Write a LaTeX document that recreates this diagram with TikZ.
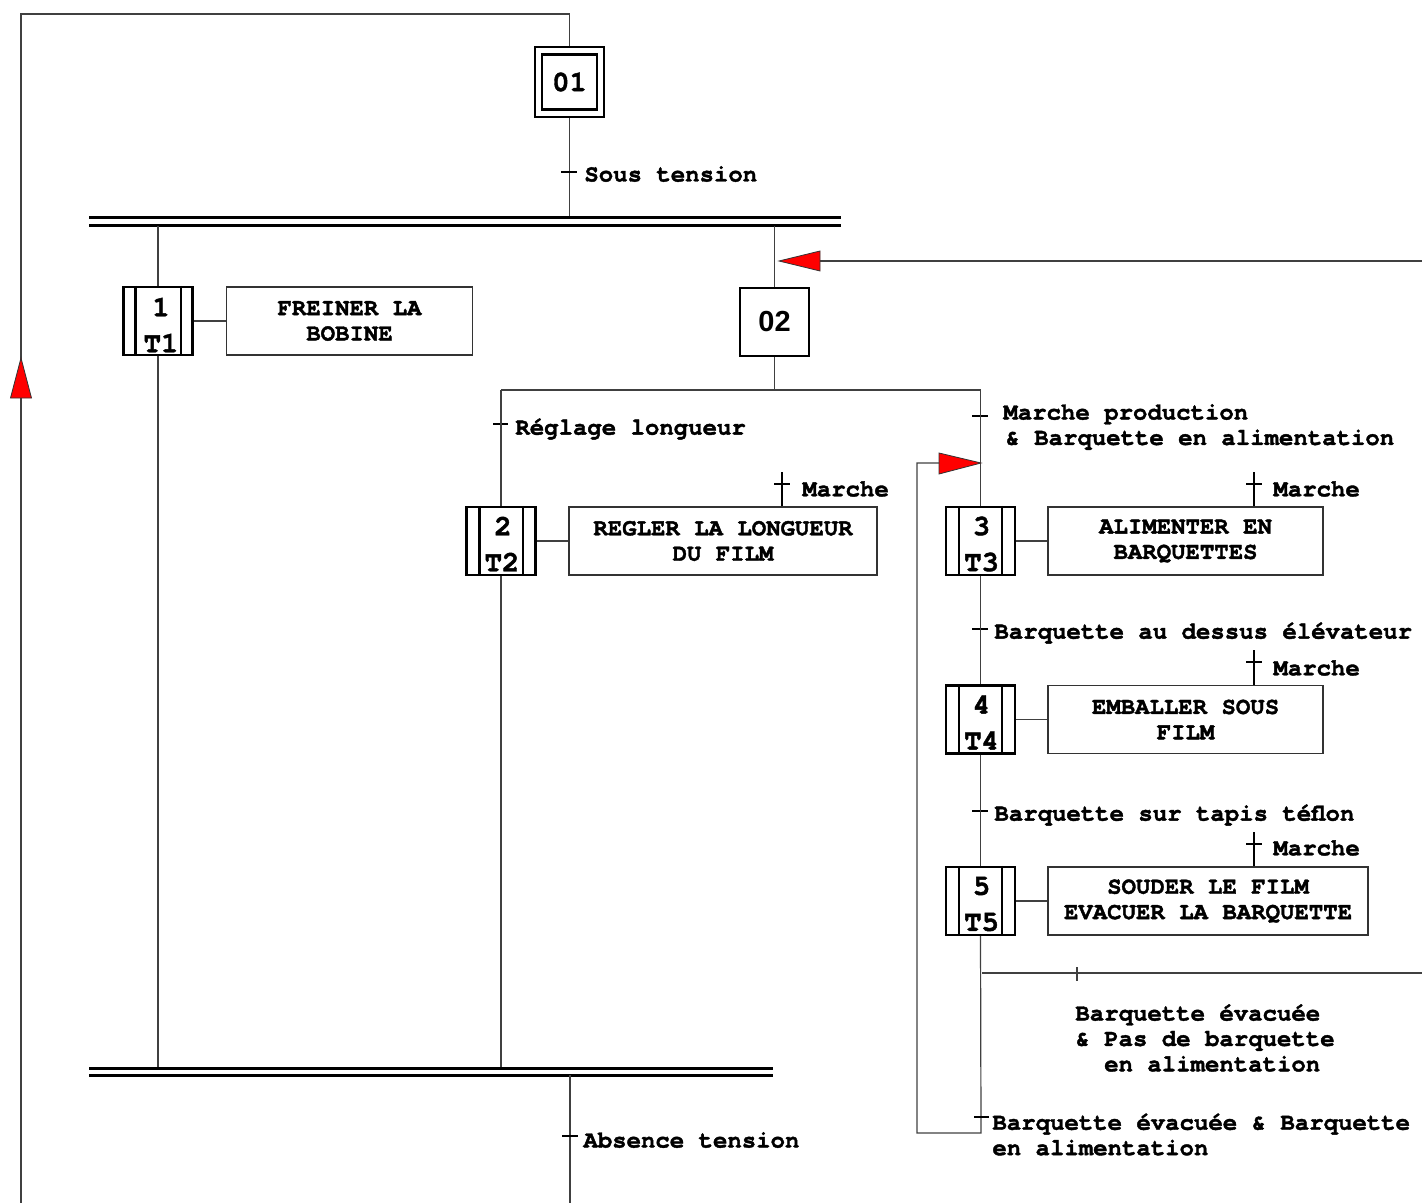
\documentclass[tikz,border=0pt]{standalone}
\usepackage{fontspec}
\setmainfont{TeX Gyre Cursor}[BoldFeatures={FakeBold=1.6}]
\newfontfamily\sansf{Liberation Sans}
\usetikzlibrary{calc}
\newcommand{\mytxt}{\fontsize{12}{12.7}\selectfont\bfseries}
\newcommand{\mynum}{\fontsize{14.5}{15}\selectfont\bfseries}
\begin{document}
\begin{tikzpicture}[x=0.5pt,y=-0.5pt,
 wire/.style={draw=black!75,line width=0.6pt},
 sbox/.style={draw=black,line width=1.1pt,minimum width=34.5pt,minimum height=34pt,inner sep=0pt},
 inner/.style={draw=black,line width=1.1pt},
 abox/.style={draw=black!80,line width=0.7pt,minimum height=34pt,align=center,inner sep=0pt,font=\mytxt},
 lbl/.style={inner sep=0pt,anchor=west,align=left,font=\mytxt},
 tickl/.style={draw=black,line width=1pt},
 dbar/.style={draw=black,line width=1.5pt},
 redtip/.style={fill=red,draw=black!80,line width=0.4pt},
 num/.style={inner sep=0pt,font=\mynum}]
\useasboundingbox (0,0) rectangle (1422,1203);

% ---- initial step 01 and outer loop
\node[sbox,minimum width=34.5pt,minimum height=35pt] (s01) at (569.5,82) {};
\node[sbox,minimum width=27.5pt,minimum height=27.5pt,font=\mynum] (s01i) at (s01.center) {\raisebox{-2pt}{01}};
\coordinate (loopTR) at (569.5,14);
\coordinate (loopTL) at (21,14);
\coordinate (loopBL) at (21,1203);
\draw[wire] (s01.north) -- (loopTR) -- (loopTL) -- (loopBL);
\coordinate (upTip) at (21,358);
\fill[redtip] (upTip) -- ++(10.5,40) -- ++(-21,0) -- cycle;

% ---- transition Sous tension
\coordinate (d1top) at (569.5,218);
\draw[wire] (s01.south) -- (d1top);
\draw[tickl] (561,172) -- (577,172);
\node[lbl] (tSous) at (584,174) {Sous tension};

% ---- top double bar
\draw[dbar] (89,218) -- (841,218);
\draw[dbar] (89,226) -- (841,226);

% ---- branch 1
\node[sbox] (s1) at (158,321) {};
\draw[inner] ($(s1.north west)+(13,0)$) -- ($(s1.south west)+(13,0)$);
\draw[inner] ($(s1.north east)+(-13,0)$) -- ($(s1.south east)+(-13,0)$);
\node[num] (s1n) at ($(s1.center)+(3,-14)$) {1};
\node[num] (s1t) at ($(s1.center)+(3,22)$) {T1};
\coordinate (b1top) at (158,226);
\coordinate (b1bot) at (158,1068);
\draw[wire] (b1top) -- (s1.north);
\draw[wire] (s1.south) -- (b1bot);
\node[abox,minimum width=123pt] (a1) at (349.5,321) {FREINER LA\\BOBINE};
\draw[wire] (s1.east) -- (a1.west);

% ---- branch 2 : step 02
\node[sbox,font=\sansf\fontsize{14.5}{15}\selectfont\bfseries] (s02) at (774.5,322) {02};
\coordinate (b2top) at (774.5,226);
\draw[wire] (b2top) -- (s02.north);
\coordinate (arrTip) at (779,261);
\coordinate (arrR) at (1422,261);
\draw[wire] (arrR) -- ($(arrTip)+(41,0)$);
\fill[redtip] (arrTip) -- ++(41,-10) -- ++(0,20) -- cycle;

\coordinate (ouC) at (774.5,390);
\coordinate (ouL) at (501,390);
\coordinate (ouR) at (980.5,390);
\draw[wire] (s02.south) -- (ouC);
\draw[wire] (ouL) -- (ouR);

% ---- left sub-branch : step 2
\draw[tickl] (493,424) -- (508,424);
\node[lbl] (tRegl) at (515,429) {Réglage longueur};
\node[sbox] (s2) at (501,541) {};
\draw[inner] ($(s2.north west)+(14,0)$) -- ($(s2.south west)+(14,0)$);
\draw[inner] ($(s2.north east)+(-14,0)$) -- ($(s2.south east)+(-14,0)$);
\node[num] (s2n) at ($(s2.center)+(2,-15)$) {2};
\node[num] (s2t) at ($(s2.center)+(1,21)$) {T2};
\coordinate (b3bot) at (501,1068);
\draw[wire] (ouL) -- (s2.north);
\draw[wire] (s2.south) -- (b3bot);
\node[abox,minimum width=154pt] (a2) at (723,541) {REGLER LA LONGUEUR\\DU FILM};
\draw[wire] (s2.east) -- (a2.west);
\coordinate (m2) at (782,472);
\draw[tickl] (a2.north -| m2) -- (m2);
\draw[tickl] (774,484) -- (790,484);
\node[lbl] (m2l) at (802,489) {Marche};

% ---- right sub-branch : steps 3,4,5
\draw[tickl] (972,416) -- (988,416);
\node[lbl] (tMP) at (1003,427) {Marche production\\\hspace*{1pt}\& Barquette en alimentation};
\node[sbox] (s3) at (980.5,541) {};
\draw[inner] ($(s3.north west)+(14,0)$) -- ($(s3.south west)+(14,0)$);
\draw[inner] ($(s3.north east)+(-14,0)$) -- ($(s3.south east)+(-14,0)$);
\node[num] (s3n) at ($(s3.center)+(1,-15)$) {3};
\node[num] (s3t) at ($(s3.center)+(1,21)$) {T3};
\draw[wire] (ouR) -- (s3.north);
\coordinate (rTip) at (981,463);
\fill[redtip] (rTip) -- ++(-42,-10) -- ++(0,21) -- cycle;
\node[abox,minimum width=137.5pt] (a3) at (1185.5,541) {ALIMENTER EN\\BARQUETTES};
\draw[wire] (s3.east) -- (a3.west);
\coordinate (m3) at (1254,472);
\draw[tickl] (a3.north -| m3) -- (m3);
\draw[tickl] (1246,484) -- (1262,484);
\node[lbl] (m3l) at (1273,489) {Marche};

\draw[tickl] (972,629) -- (988,629);
\node[lbl] (tBel) at (994,633) {Barquette au dessus élévateur};
\node[sbox] (s4) at (980.5,719.5) {};
\draw[inner] ($(s4.north west)+(14,0)$) -- ($(s4.south west)+(14,0)$);
\draw[inner] ($(s4.north east)+(-14,0)$) -- ($(s4.south east)+(-14,0)$);
\node[num] (s4n) at ($(s4.center)+(1,-15)$) {4};
\node[num] (s4t) at ($(s4.center)+(1,21)$) {T4};
\draw[wire] (s3.south) -- (s4.north);
\node[abox,minimum width=137.5pt] (a4) at (1185.5,719.5) {EMBALLER SOUS\\FILM};
\draw[wire] (s4.east) -- (a4.west);
\coordinate (m4) at (1254,650);
\draw[tickl] (a4.north -| m4) -- (m4);
\draw[tickl] (1246,662) -- (1262,662);
\node[lbl] (m4l) at (1273,668) {Marche};

\draw[tickl] (972,811) -- (988,811);
\node[lbl] (tBtef) at (994,815) {Barquette sur tapis téflon};
\node[sbox] (s5) at (980.5,901) {};
\draw[inner] ($(s5.north west)+(14,0)$) -- ($(s5.south west)+(14,0)$);
\draw[inner] ($(s5.north east)+(-14,0)$) -- ($(s5.south east)+(-14,0)$);
\node[num] (s5n) at ($(s5.center)+(1,-15)$) {5};
\node[num] (s5t) at ($(s5.center)+(1,21)$) {T5};
\draw[wire] (s4.south) -- (s5.north);
\node[abox,minimum width=160pt] (a5) at (1208,901) {SOUDER LE FILM\\EVACUER LA BARQUETTE};
\draw[wire] (s5.east) -- (a5.west);
\coordinate (m5) at (1254,832);
\draw[tickl] (a5.north -| m5) -- (m5);
\draw[tickl] (1246,844) -- (1262,844);
\node[lbl] (m5l) at (1273,848) {Marche};

% ---- exits after step 5
\coordinate (h5L) at (982,973);
\coordinate (h5R) at (1422,973);
\draw[wire] (h5L) -- (h5R);
\draw[wire] (1077,967) -- (1077,981);
\node[lbl] (tPas) at (1075,1038) {Barquette évacuée\\\& Pas de barquette\\\hspace*{14.4pt}en alimentation};

\coordinate (lpBR) at (981,1133);
\coordinate (lpBL) at (917,1133);
\coordinate (lpTL) at (917,463);
\draw[wire] (s5.south) -- (lpBR) -- (lpBL) -- (lpTL) -- ($(rTip)+(-42,0)$);
\draw[tickl] (974,1117) -- (989,1117);
\node[lbl] (tBev) at (992,1134.5) {Barquette évacuée \& Barquette\\en alimentation};

% ---- bottom double bar
\draw[dbar] (89,1068) -- (773,1068);
\draw[dbar] (89,1075) -- (773,1075);
\coordinate (botTop) at (570,1075);
\coordinate (botBot) at (570,1203);
\draw[wire] (botTop) -- (botBot);
\draw[tickl] (562,1136) -- (578,1136);
\node[lbl] (tAbs) at (583,1140) {Absence tension};
\end{tikzpicture}
\end{document}
